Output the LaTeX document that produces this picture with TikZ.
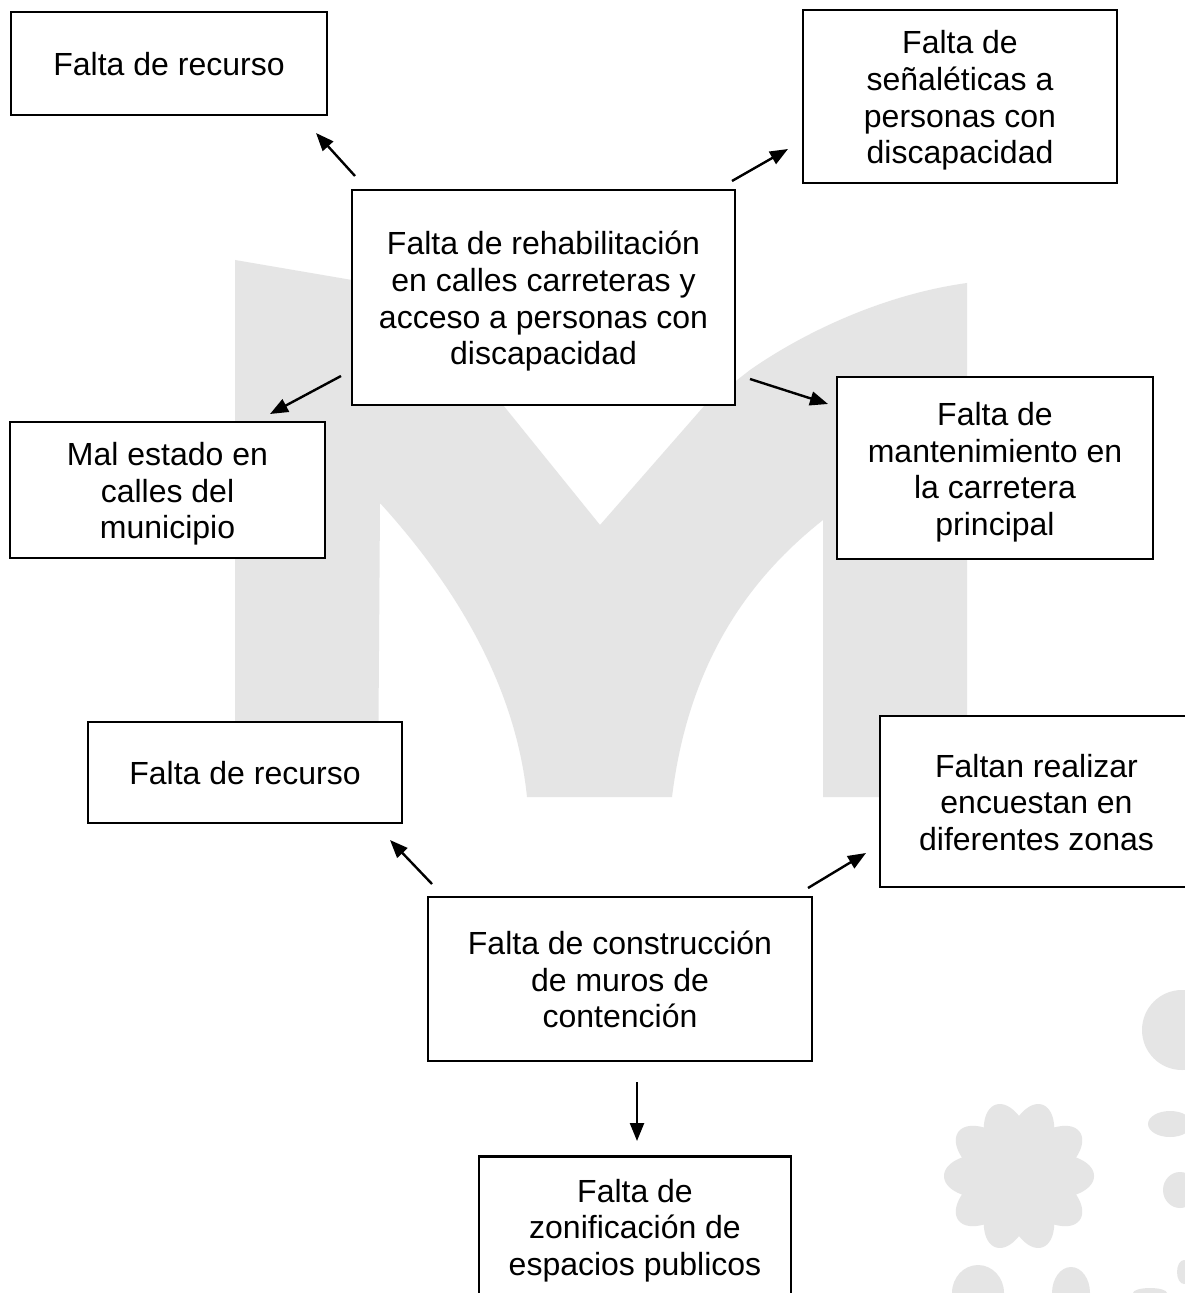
\documentclass[tikz,border=0pt]{standalone}
\usepackage{fontspec}
\setmainfont{Liberation Sans}
\usetikzlibrary{arrows.meta}
\newcommand{\tstr}{\rule{0pt}{15.7pt}}
\newcommand{\bstr}{\rule[-3.4pt]{0pt}{3.4pt}}
\begin{document}
\begin{tikzpicture}[x=0.5pt,y=-0.5pt,
  box/.style={draw=black, line width=1.4pt, fill=white, align=center, inner sep=0pt,
    font=\fontsize{16}{18.3}\selectfont},
  arr/.style={-{Triangle[length=9pt,width=7pt]}, line width=1.2pt},
  wm/.style={fill=black!10, draw=none}]
\useasboundingbox (0,0) rectangle (1184,1293);
\fill[white] (0,0) rectangle (1184,1293);
% watermark M
\path[wm] (235,797) -- (235,260) -- (352,280) -- (470,330) -- (503,405) -- (600,525) -- (705,405)
  -- (750,370) .. controls (800,335) and (880,295) .. (967,283) -- (967,797) -- (823,797)
  -- (823,520) .. controls (760,570) and (690,650) .. (672,797) -- (527,797)
  .. controls (515,680) and (450,580) .. (380,503) -- (378,797) -- cycle;
% watermark flowers
\path[wm] plot[variable=\t, domain=0:359, samples=360]
  ({1019+(60+15*abs(cos(5*\t)))*cos(\t)},{1176+(60+15*abs(cos(5*\t)))*sin(\t)}) -- cycle;
\path[wm] (1182,1030) circle[radius=40];
\path[wm] (1170,1124) ellipse[x radius=22, y radius=13];
\path[wm] (1180,1190) ellipse[x radius=17, y radius=18];
\path[wm] (978,1293) ellipse[x radius=26, y radius=28];
\path[wm] (1071,1293) ellipse[x radius=19, y radius=26];
\path[wm] (1150,1293) ellipse[x radius=17, y radius=5];
\path[wm] (1184,1272) ellipse[x radius=7, y radius=12];
% boxes
\node[box, minimum width=158pt, minimum height=51.5pt] (A) at (169,63.5) {\tstr Falta de recurso\bstr};
\node[box, minimum width=157pt, minimum height=86.5pt] (B) at (960,96.5) {\tstr Falta de\\señaléticas a\\personas con\\discapacidad\bstr};
\node[box, minimum width=191.5pt, minimum height=107.5pt] (C) at (543.5,297.5) {\tstr Falta de rehabilitación\\en calles carreteras y\\acceso a personas con\\discapacidad\bstr};
\node[box, minimum width=157.5pt, minimum height=68pt] (D) at (167.5,490) {\tstr Mal estado en\\calles del\\municipio\bstr};
\node[box, minimum width=158pt, minimum height=91pt] (E) at (995,468) {\tstr Falta de\\mantenimiento en\\la carretera\\principal\bstr};
\node[box, minimum width=157pt, minimum height=50.5pt] (F) at (245,772.5) {\tstr Falta de recurso\bstr};
\node[box, minimum width=156.5pt, minimum height=85.5pt] (G) at (1036.5,801.5) {\tstr Faltan realizar\\encuestan en\\diferentes zonas\bstr};
\node[box, minimum width=192pt, minimum height=82pt] (H) at (620,979) {\tstr Falta de construcción\\de muros de\\contención\bstr};
\node[box, minimum width=156pt, minimum height=70pt] (I) at (635,1226.5) {\tstr Falta de\\zonificación de\\espacios publicos\bstr};
% arrow end points
\coordinate (cA) at (355,176); \coordinate (tA) at (316,133);
\coordinate (cB) at (732,181); \coordinate (tB) at (788,149);
\coordinate (cD) at (341,376); \coordinate (tD) at (270,414);
\coordinate (cE) at (750,379); \coordinate (tE) at (828,404);
\coordinate (hF) at (432,884); \coordinate (tF) at (390,840);
\coordinate (hG) at (808,888); \coordinate (tG) at (866,853);
\coordinate (hI) at (637,1082); \coordinate (tI) at (637,1141);
\draw[arr] (cA) -- (tA);
\draw[arr] (cB) -- (tB);
\draw[arr] (cD) -- (tD);
\draw[arr] (cE) -- (tE);
\draw[arr] (hF) -- (tF);
\draw[arr] (hG) -- (tG);
\draw[arr] (hI) -- (tI);
\end{tikzpicture}
\end{document}
